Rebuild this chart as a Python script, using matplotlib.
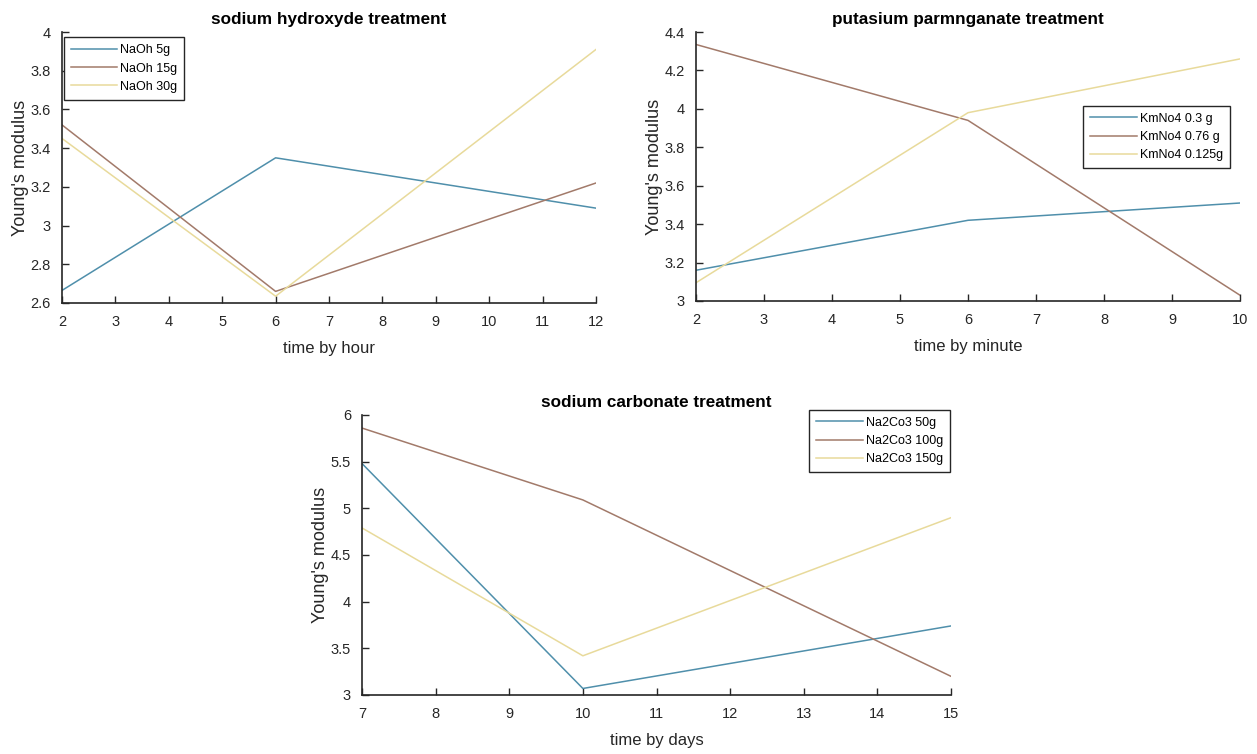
import matplotlib
matplotlib.use("Agg")
import matplotlib.pyplot as plt

plt.rcParams['font.family'] = ['Liberation Sans', 'DejaVu Sans']

# ---- data ----
naoh_x = [2, 6, 12]
naoh_5g = [2.665, 3.35, 3.09]
naoh_15g = [3.52, 2.66, 3.22]
naoh_30g = [3.45, 2.635, 3.91]
naoh_labels = ['NaOh 5g', 'NaOh 15g', 'NaOh 30g']

kmno4_x = [2, 6, 10]
kmno4_03 = [3.16, 3.42, 3.51]
kmno4_076 = [4.335, 3.94, 3.03]
kmno4_0125 = [3.095, 3.98, 4.26]
kmno4_labels = ['KmNo4 0.3 g', 'KmNo4 0.76 g', 'KmNo4 0.125g']

na2co3_x = [7, 10, 15]
na2co3_50 = [5.48, 3.07, 3.74]
na2co3_100 = [5.86, 5.09, 3.20]
na2co3_150 = [4.79, 3.42, 4.90]
na2co3_labels = ['Na2Co3 50g', 'Na2Co3 100g', 'Na2Co3 150g']

colors = ['#4f8fab', '#a27a6a', '#e8da9b']
axcol = '#262626'

W, H = 1257, 754
fig = plt.figure(figsize=(W / 100, H / 100), dpi=100)


def px_axes(x0, y0, x1, y1):
    return fig.add_axes([x0 / W, 1 - y1 / H, (x1 - x0) / W, (y1 - y0) / H])


def style(ax, title, xlabel, xlim, ylim, xticks, yticks, yfmt):
    ax.set_xlim(*xlim)
    ax.set_ylim(*ylim)
    ax.set_xticks(xticks)
    ax.set_yticks(yticks)
    ax.set_yticklabels([yfmt(v) for v in yticks])
    ax.spines['top'].set_visible(False)
    ax.spines['right'].set_visible(False)
    for s in ('left', 'bottom'):
        ax.spines[s].set_color(axcol)
        ax.spines[s].set_linewidth(1.2)
    ax.tick_params(direction='in', length=5, width=1, colors=axcol,
                   labelsize=10.5)
    ax.tick_params(axis='x', pad=9)
    ax.tick_params(axis='y', pad=8)
    ax.set_title(title, fontsize=12.3, fontweight='bold', color='black', pad=6)
    ax.set_xlabel(xlabel, fontsize=12, color=axcol, labelpad=8)
    ax.set_ylabel("Young's modulus", fontsize=13, color=axcol, labelpad=1)


def fmt(v):
    s = ('%.1f' % v)
    return s[:-2] if s.endswith('.0') else s


leg_kw = dict(fontsize=9, handlelength=3.7, fancybox=False, edgecolor=axcol,
              framealpha=1, borderaxespad=0, labelspacing=0.5,
              handletextpad=0.25, borderpad=0.55)

# top-left
ax1 = px_axes(62, 32, 596, 303)
for ys, c, lab in zip([naoh_5g, naoh_15g, naoh_30g], colors, naoh_labels):
    ax1.plot(naoh_x, ys, color=c, lw=1.1, label=lab)
style(ax1, 'sodium hydroxyde treatment', 'time by hour', (2, 12), (2.6, 4),
      list(range(2, 13)), [2.6, 2.8, 3, 3.2, 3.4, 3.6, 3.8, 4], fmt)
lg = ax1.legend(loc='upper left', bbox_to_anchor=(0.004, 0.98), **leg_kw)
lg.get_frame().set_linewidth(1.0)

# top-right
ax2 = px_axes(696, 32, 1240, 301)
for ys, c, lab in zip([kmno4_03, kmno4_076, kmno4_0125], colors, kmno4_labels):
    ax2.plot(kmno4_x, ys, color=c, lw=1.1, label=lab)
style(ax2, 'putasium parmnganate treatment', 'time by minute', (2, 10), (3, 4.4),
      list(range(2, 11)), [3, 3.2, 3.4, 3.6, 3.8, 4, 4.2, 4.4], fmt)
lg = ax2.legend(loc='upper right', bbox_to_anchor=(0.981, 0.725), **leg_kw)
lg.get_frame().set_linewidth(1.0)

# bottom
ax3 = px_axes(362, 415, 951, 695)
for ys, c, lab in zip([na2co3_50, na2co3_100, na2co3_150], colors, na2co3_labels):
    ax3.plot(na2co3_x, ys, color=c, lw=1.1, label=lab)
style(ax3, 'sodium carbonate treatment', 'time by days', (7, 15), (3, 6),
      list(range(7, 16)), [3, 3.5, 4, 4.5, 5, 5.5, 6], fmt)
lg = ax3.legend(loc='upper right', bbox_to_anchor=(0.998, 1.018), **leg_kw)
lg.get_frame().set_linewidth(1.0)

fig.savefig('out.png', dpi=100, facecolor='white')
